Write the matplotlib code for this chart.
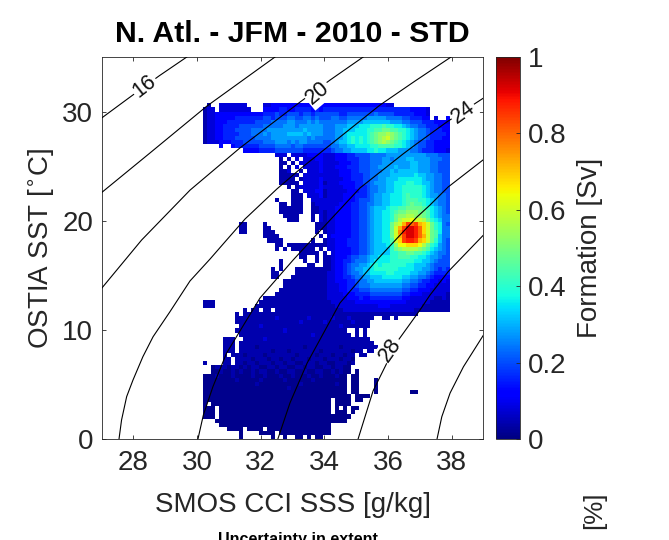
"""T-S formation map, N. Atl. JFM 2010."""

import matplotlib
matplotlib.use("Agg")
import matplotlib.pyplot as plt
import numpy as np

plt.rcParams["font.family"] = ["Liberation Sans", "DejaVu Sans"]

# formation per cell, one char per cell, top row first ('.' = no data)
# 0 means 0.015, then 1-9 a-p means 0.04, 0.08 ... 1.0; blanks group the columns by ten
FORMATION_ROWS = [
    ".1..222222 2....22333 3333333333 3333333333 33333322.. .......... ..",
    "122.222222 22...33334 4334444343 4444444444 4444444444 4433332... ..",
    "1223333333 3333344454 4555455455 5555445555 5556555544 4443332... ..",
    "1223333344 4444455455 5665566565 5566556666 6777776666 5544433.2. .3",
    "1223334444 4445555666 6776667676 6666667777 8888888777 6655544433 32",
    "1223344445 5555566666 7776777777 6667778889 99aaabaa99 8766554443 33",
    "1223344455 5566667777 7777787777 6667788899 9aabbccbba a987665444 33",
    "1223344445 5566676777 7888878777 6667789999 9abcddedcb a987665444 43",
    "1223344455 5556666777 7777776766 6667789a9a 9abcdefdcb a987665444 33",
    "1222333444 5555566677 7676776666 5567889a9a 9abcdedcba 9876554433 33",
    "....3..344 4444555566 6656655555 5566778899 99aabbbbaa 9876554433 33",
    ".......... 3333444455 5555544444 4456677888 899a998887 7766544433 32",
    ".......... ........22 2.22223333 2223334455 5566667777 7777776665 55",
    ".......... .........1 .1.2.22233 2223334445 5566677677 7887777666 55",
    ".......... .........1 1.1.222223 2222333445 5566677777 7788777665 55",
    ".......... .........1 .1.2.22223 2223334445 5566777787 7788777665 55",
    ".......... .........1 12..1.2223 2222333445 5566677878 8888777665 55",
    ".......... .........1 1111.22222 2222333444 5566777888 8889887766 55",
    ".......... .........1 111.122223 2222233444 5566778889 9999987766 55",
    ".......... .........1 1111.22223 1222333344 5567778899 9aa9988766 55",
    ".......... .......... .1.1222223 2222233344 4566778899 aaaaa98766 55",
    ".......... .......... ..11.22233 1222223334 4566778899 aaaaa98766 55",
    ".......... .......... ..111.2223 1222233344 4567788999 abaaa98776 65",
    ".......... ........1. ..111..222 2222233345 5567788999 abbbaa9876 65",
    ".......... .........1 1.111..122 2222333445 5667788999 abcbba9876 65",
    ".......... .........1 11111..112 2223333445 5678889aab bccccba987 65",
    ".......... .........1 11111..112 1223333445 5678899abc cdddccb987 65",
    ".......... .......... 1111...1.2 1223333445 5678899acd deeddcb987 66",
    ".......... .......... .111...1.2 1223333445 5678899ace ffgffeca98 66",
    ".........1 1....1.... ........11 1223333445 5678899cef ilklihfca9 65",
    ".........1 1....11... ........11 1223333445 5678899cfi lnnmkhfca9 66",
    ".........1 1....111.. ........1. 1223333445 5678899cfj mnnmkhfcb9 66",
    ".......... .....1111. .........1 .233333445 5678899cfi lnnmkifcb8 66",
    ".......... ......1111 .......1.. 1223334445 5678899bfh lmmlihfca8 65",
    ".......... ........11 .111111111 1223334445 5678889adg ghhhgeca97 65",
    ".......... ........1. 1.111111.1 .223333445 5678888acd eeeedcb987 65",
    ".......... .......... ....11111. 1.23333445 5678888aab bccbba9876 65",
    ".......... .......... ....11..1. 1123334556 6788999aab bbaa998776 55",
    ".......... .........1 .....1..1. 1123344566 6789999aaa aaa9988765 55",
    ".......... .........1 ......11.. 1123345667 789a9aaaaa a998887655 55",
    ".......... .......1.1 ...1111111 1123345677 889aaaaaa9 9998877654 54",
    ".......... .......11. ...1111111 1223345667 889999aa99 9988776544 44",
    ".......... .......11. ..11111111 1223344566 7788899999 8877665433 33",
    ".......... .......... 1111111111 1223334456 6778888888 7766544332 32",
    ".......... .......... 1111111111 1222334456 6677777777 6655443322 22",
    ".......... .........1 1111111111 1222334445 5566666666 5544333222 22",
    ".......... ........11 1111111111 1222233344 4455555555 4433322222 21",
    ".......... .....11111 1111111111 1222223334 3344444444 3322222211 21",
    "111....... ....111111 1111111111 1122222233 3333333333 3222222111 11",
    "111....... ...1111111 1111111111 1112222222 2222333222 2222211111 11",
    ".......... 1.11.11.11 1111111111 1111122222 2222222222 2221111111 11",
    "........1. 1111111111 1111111111 1111111111 1111111111 1111...... ..",
    "........11 1111111121 1111112111 1121112111 111..11.1. .......... ..",
    "........11 1111111111 1111211111 2111111211 11........ .......... ..",
    ".........1 1111211111 1111111111 1111211111 11........ .......... ..",
    "........11 1111111111 2111111111 111111..1. 1......... .......... ..",
    ".........1 1111111111 1111111211 1111111.1. 1......... .......... ..",
    ".....111.. 1111121111 1111111111 1111111111 11........ .......... ..",
    ".....111.1 1111111111 1111111111 1111111111 111....... .......... ..",
    ".....111.1 1110111111 1111101111 1111011111 1111...... .......... ..",
    ".....111.1 1111111011 1011111110 1111111011 .11....... .......... ..",
    ".....1.111 0111101111 1110111101 11011011.1 1......... .......... ..",
    ".....11.11 1101110110 1101110111 01110110.. .......... .......... ..",
    "1....11.11 0110111011 0110011101 10011101.. .......... .......... ..",
    "..01110110 1011001101 1001101100 1101100... .......... .......... ..",
    "..00100101 0010110010 0110010011 0010100.0. .......... .......... ..",
    "0001000100 0010010001 0010001001 000100.00. .......... .......... ..",
    "0000000010 0000100000 1000000100 000000.00. ...0...... .......... ..",
    "0000000000 0001000000 0000100000 000100.00. ...0...... .......... ..",
    "0000000000 0000000000 0100000000 000000.00. ...0...... .......... ..",
    "0000000000 0000000000 0000000000 000000.00. ...0...... ..00...... ..",
    "0000000000 0000000000 0000000000 0000000.00 00........ .......... ..",
    "0000000000 0000000000 0000000000 00.0000.00 .......... .......... ..",
    "0.00000000 0000000000 0000000000 00.0000... .......... .......... ..",
    "000.000000 0000000000 0000000000 00.0.0.00. .......... .......... ..",
    "000.000000 0000000000 0000000000 00.000.0.. .......... .......... ..",
    "000.000000 0000000000 0000000000 0000000... .......... .......... ..",
    "...0000000 0000000000 0000000000 000000.... .......... .......... ..",
    "....000000 0000000000 0000000000 00........ .......... .......... ..",
    "......0000 .0000.0000 0000000000 00........ .......... .......... ..",
    ".........0 ....0000.0 0000000000 00........ .......... .......... ..",
    ".........0 .......0.. 0..00.0.00 .......... .......... .......... ..",
]

# density contours
SIG16_SSS = [27.0, 27.86, 28.81, 29.68]
SIG16_SST = [29.4, 31.25, 33.27, 35.0]
SIG18_SSS = [27.0, 28.52, 30.31, 32.45]
SIG18_SST = [22.57, 26.2, 30.5, 35.0]
SIG20_SSS = [27.0, 28.26, 29.78, 31.35, 33.24, 34.18, 35.22]
SIG20_SST = [13.79, 18.23, 22.8, 26.67, 30.88, 32.89, 35.0]
SIG22_SSS = [27.55, 27.63, 27.79, 27.99, 28.3, 28.62, 29.15, 29.78, 30.41, 30.93,
             31.51, 32.51, 33.24, 34.18, 35.75, 36.85, 37.98]
SIG22_SST = [0.0, 1.74, 3.88, 5.41, 7.54, 9.37, 11.66, 14.48, 16.49, 18.23,
             20.16, 22.91, 24.74, 26.94, 30.6, 32.8, 35.0]
SIG24_SSS = [30.03, 30.2, 30.5, 30.93, 31.98, 33.02, 33.8, 35.12, 36.47, 36.85, 37.85, 39.0]
SIG24_SST = [0.0, 2.2, 4.79, 7.88, 12.92, 16.4, 18.87, 23.0, 26.11, 26.94, 29.05, 31.24]
SIG26_SSS = [32.54, 32.92, 33.46, 34.49, 35.65, 36.91, 37.32, 37.89, 39.0]
SIG26_SST = [0.0, 3.3, 6.96, 12.46, 16.4, 20.34, 21.44, 23.09, 25.6]
SIG28_SSS = [35.06, 35.53, 36.31, 37.0, 37.32, 37.89, 39.0]
SIG28_SST = [0.0, 4.4, 9.0, 11.8, 13.19, 15.33, 18.69]
SIG30_SSS = [37.54, 37.69, 37.95, 38.37, 39.0]
SIG30_SST = [0.0, 2.04, 4.21, 6.62, 9.53]

CONTOURS = [
    (SIG16_SSS, SIG16_SST),
    (SIG18_SSS, SIG18_SST),
    (SIG20_SSS, SIG20_SST),
    (SIG22_SSS, SIG22_SST),
    (SIG24_SSS, SIG24_SST),
    (SIG26_SSS, SIG26_SST),
    (SIG28_SSS, SIG28_SST),
    (SIG30_SSS, SIG30_SST),
]
CONTOUR_LABELS = [
    ("16", 28.36, 32.3, 38),
    ("20", 33.8, 31.7, 40),
    ("24", 38.36, 29.96, 36),
    ("28", 36.08, 8.17, 55),
]

SSS_TICKS = [28, 30, 32, 34, 36, 38]
SST_TICKS = [0, 10, 20, 30]
CBAR_TICKS = [0, 0.2, 0.4, 0.6, 0.8, 1]
CBAR_LABELS = ["0", "0.2", "0.4", "0.6", "0.8", "1"]

DARK = "#262626"

rows = [r.replace(" ", "") for r in FORMATION_ROWS]
n_cols = 62
grid = np.full((len(rows), n_cols), np.nan)
for i, row in enumerate(rows):
    for j, ch in enumerate(row[:n_cols]):
        if ch != ".":
            grid[i, j] = max(int(ch, 36) * 0.04, 0.015)

x_edges = 30.2 + 0.125 * np.arange(n_cols + 1)
y_edges = 0.375 * np.arange(len(rows), -1, -1)

fig = plt.figure(figsize=(6.69, 5.4), dpi=100)
W, H = 669.0, 540.0
ax = fig.add_axes([101.5 / W, (H - 439) / H, 382 / W, 382 / H])

mesh = ax.pcolormesh(x_edges, y_edges, grid, cmap="jet", vmin=0, vmax=1,
                     edgecolors="none", antialiased=False)

for sss, sst in CONTOURS:
    ax.plot(sss, sst, color="black", lw=0.8, zorder=3)

for label, x, y, rot in CONTOUR_LABELS:
    ax.text(x, y, label, fontsize=15.5, color="#111111", rotation=rot, ha="center",
            va="center", rotation_mode="anchor", zorder=4, clip_on=False,
            bbox=dict(fc="white", ec="none", pad=1.0))

ax.set_xlim(27, 39)
ax.set_ylim(0, 35)
ax.set_xticks(SSS_TICKS)
ax.set_yticks(SST_TICKS)
ax.tick_params(direction="in", length=2.8, width=0.6, top=True, right=True,
               labelsize=20, colors=DARK)
ax.tick_params(axis="x", pad=8)
ax.tick_params(axis="y", pad=6)
for spine in ax.spines.values():
    spine.set_linewidth(0.6)
    spine.set_color(DARK)

fig.text(292 / W, 1 - 34 / H, "N. Atl. - JFM - 2010 - STD", fontsize=21.8,
         fontweight="bold", color="black", ha="center", va="center")
fig.text(293 / W, 1 - 505 / H, "SMOS CCI SSS [g/kg]", fontsize=20, color=DARK,
         ha="center", va="center")
fig.text(42 / W, 1 - 248 / H, r"OSTIA SST [$^{\circ}$C]", fontsize=20, color=DARK,
         ha="center", va="center", rotation=90)

cax = fig.add_axes([496 / W, (H - 439) / H, 24 / W, 382 / H])
cbar = fig.colorbar(mesh, cax=cax)
cbar.set_ticks(CBAR_TICKS, labels=CBAR_LABELS)
cax.tick_params(direction="in", length=2.8, width=0.6, labelsize=20, colors=DARK, pad=6)
cbar.outline.set_linewidth(0.6)
cbar.outline.set_edgecolor(DARK)
fig.text(590 / W, 1 - 248 / H, "Formation [Sv]", fontsize=20, color=DARK,
         ha="center", va="center", rotation=90)

# pieces of the next panel, cut off by the bottom edge
fig.text(298 / W, 1 - 544 / H, "Uncertainty in extent", fontsize=11.6,
         fontweight="bold", color="black", ha="center", va="baseline")
fig.text(594 / W, 1 - 510 / H, "[%]", fontsize=18.7, color=DARK, ha="center",
         va="center", rotation=90)

fig.savefig("out.png", dpi=100)
